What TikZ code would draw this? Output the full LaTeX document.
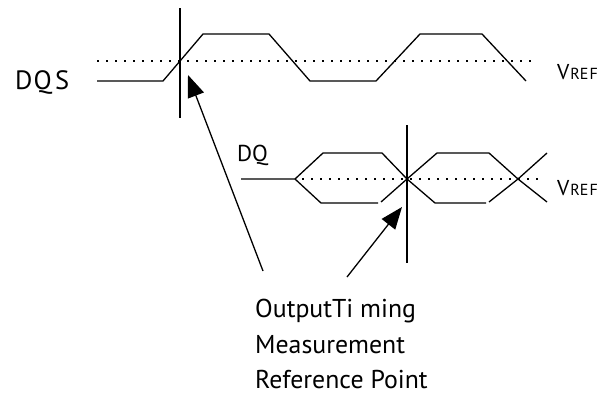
\documentclass[tikz,border=0pt]{standalone}
\usepackage{fontspec}
\setmainfont{PT Sans}
\usetikzlibrary{arrows.meta}
\tikzset{
  wave/.style={line width=1.3pt, line join=miter},
  vref/.style={line width=1.6pt, dash pattern=on 1.6pt off 7.4pt},
  marker/.style={line width=1.3pt},
  pointer/.style={line width=1.3pt, -{Triangle[length=22pt,width=17pt]}},
  lbl/.style={inner sep=0pt, anchor=base west},
  note/.style={lbl, font=\fontsize{25.8}{28}\selectfont},
}
\newcommand{\vrefname}{{\fontsize{21.5}{22}\selectfont V}\kern1pt{\fontsize{16}{18}\selectfont RE\kern1pt F}}
\begin{document}
\begin{tikzpicture}[x=1pt,y=-1pt]
\useasboundingbox (0,0) rectangle (612,394);
% DQS
\node[lbl, font=\fontsize{26.5}{28}\selectfont] (dqs) at (15,89) {D\kern1pt Q\kern3.5pt S};
\draw[vref] (97,61) -- (535,61);
\draw[wave] (97,81) -- (163,81) -- (203,34) -- (269,34) -- (310,81) -- (376,81) -- (420,34) -- (482,34) -- (526,81);
\node[lbl] (vref1) at (557,79) {\vrefname};
\draw[marker] (180,8) -- (180,118);
% DQ
\node[lbl, font=\fontsize{23}{26}\selectfont] (dq) at (237,161) {DQ};
\draw[vref] (302,179) -- (540,179);
\draw[wave] (241,179) -- (295,179) -- (323,153) -- (382,153) -- (407,179) -- (437,153) -- (489,153) -- (518,179) -- (547,153);
\draw[wave] (295,179) -- (321,203) -- (378,203);
\draw[wave] (381,202) -- (407,179) -- (435,203) -- (486,203);
\draw[wave] (489,202) -- (518,179) -- (547,202);
\node[lbl] (vref2) at (557,195) {\vrefname};
\draw[marker] (407,125) -- (407,263);
% annotation
\node[note] (t1) at (255,317) {OutputTi ming};
\node[note] (t2) at (255,353) {Measurement};
\node[note] (t3) at (255,388) {Reference Point};
\coordinate (a1tail) at (263,271);
\coordinate (a1tip) at (188,75);
\coordinate (a2tail) at (347,277);
\coordinate (a2tip) at (402,207);
\draw[pointer] (a1tail) -- (a1tip);
\draw[pointer] (a2tail) -- (a2tip);
\end{tikzpicture}
\end{document}
